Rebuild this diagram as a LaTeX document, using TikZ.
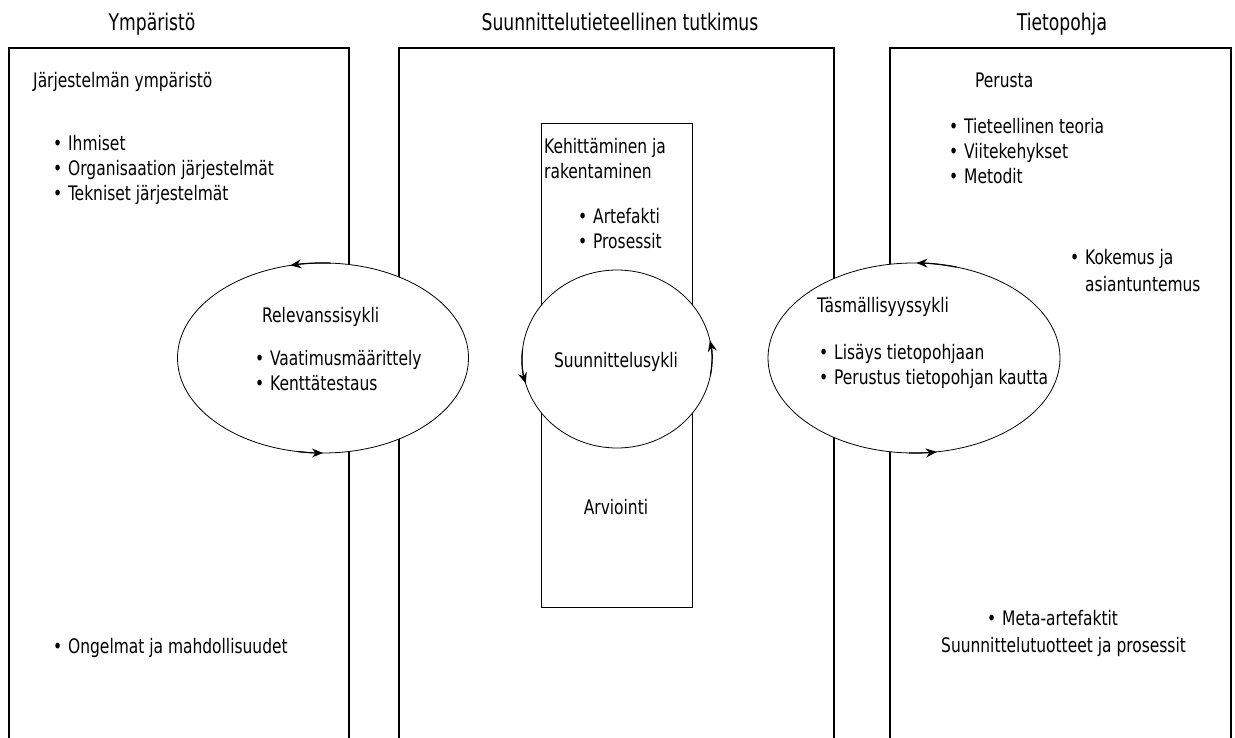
\documentclass[tikz,border=0pt]{standalone}
\usepackage{fontspec}
\setmainfont[FakeStretch=0.86]{DejaVu Sans Condensed}
\newfontfamily\headfont[FakeStretch=0.83]{DejaVu Sans Condensed}
\usetikzlibrary{arrows.meta,shapes.geometric}
\begin{document}
\begin{tikzpicture}[x=1pt,y=-1pt,
  panel/.style={line width=1.2pt},
  cyc/.style={draw, ellipse, fill=white, line width=0.8pt, inner sep=0pt, outer sep=0pt},
  txt/.style={anchor=west, inner sep=0pt, text height=14.5pt, text depth=0pt, font=\fontsize{20}{24}\selectfont},
  ctxt/.style={txt, anchor=center},
  ttl/.style={anchor=center, inner sep=0pt, text height=16.5pt, text depth=0pt, font=\headfont\fontsize{23}{27}\selectfont},
  tick/.style={line width=1.2pt, -{Stealth[length=11pt,width=9pt]}}]
\newcommand\bitem[4]{\node[txt] (#1) at (#2,#3) {\llap{\textbullet\hspace{6pt}}#4};}
% direction mark along a cycle: node, from-angle, to-angle, x radius, y radius
\newcommand\cyctick[5]{\draw[tick] (#1.center) ++(#2:#4pt and #5pt)
  arc[start angle=#2, end angle=#3, x radius=#4pt, y radius=#5pt];}
\useasboundingbox (0,0) rectangle (1235,738);

% three open-bottom panels
\draw[panel] (9,738) -- (9,48) -- (349,48) -- (349,738);
\draw[panel] (399,738) -- (399,48) -- (834,48) -- (834,738);
\draw[panel] (890,738) -- (890,48) -- (1231,48) -- (1231,738);

% panel titles
\node[ttl] (tEnv) at (152,22) {Ympäristö};
\node[ttl] (tDsr) at (620,22) {Suunnittelutieteellinen tutkimus};
\node[ttl] (tKb)  at (1062,22) {Tietopohja};

% environment panel
\node[txt] (envHead) at (33,80) {Järjestelmän ympäristö};
\bitem{e1}{68}{143}{Ihmiset}
\bitem{e2}{68}{168}{Organisaation järjestelmät}
\bitem{e3}{68}{193}{Tekniset järjestelmät}
\bitem{e4}{68}{646}{Ongelmat ja mahdollisuudet}

% design research: build / evaluate column
\node[draw, line width=0.9pt, minimum width=151pt, minimum height=484pt, inner sep=0pt] (build) at (616.5,365) {};
\node[txt] (b1) at (544,146) {Kehittäminen ja};
\node[txt] (b2) at (544,171) {rakentaminen};
\bitem{b3}{593}{216}{Artefakti}
\bitem{b4}{593}{241}{Prosessit}
\node[ctxt] (arv) at (616,507) {Arviointi};

% knowledge base panel
\node[txt] (kbHead) at (975,80) {Perusta};
\bitem{k1}{964}{126}{Tieteellinen teoria}
\bitem{k2}{964}{151}{Viitekehykset}
\bitem{k3}{964}{176}{Metodit}
\bitem{k4}{1085}{257}{Kokemus ja}
\node[txt] (k4b) at (1085,284) {asiantuntemus};
\bitem{k5}{1002}{618}{Meta-artefaktit}
\node[txt] (k6) at (941,645) {Suunnittelutuotteet ja prosessit};

% the three cycles
\node[cyc, minimum width=291pt, minimum height=190pt] (rel) at (323,358) {};
\node[cyc, minimum width=190pt, minimum height=178pt] (des) at (617,359) {};
\node[cyc, minimum width=292pt, minimum height=190pt] (rig) at (914,358) {};

\node[txt] (relT) at (262,315) {Relevanssisykli};
\bitem{r1}{270}{358}{Vaatimusmäärittely}
\bitem{r2}{270}{383}{Kenttätestaus}

\node[ctxt] (desT) at (616,360) {Suunnittelusykli};

\node[txt] (rigT) at (817,305) {Täsmällisyyssykli};
\bitem{g1}{834}{352}{Lisäys tietopohjaan}
\bitem{g2}{834}{377}{Perustus tietopohjan kautta}

% direction marks on the cycles
\cyctick{rel}{87}{103}{145.5}{95}
\cyctick{rel}{260}{270}{145.5}{95}
\cyctick{des}{174}{196}{95}{89}
\cyctick{des}{350}{372}{95}{89}
\cyctick{rig}{73}{89}{146}{95}
\cyctick{rig}{268}{279}{146}{95}
\end{tikzpicture}
\end{document}
